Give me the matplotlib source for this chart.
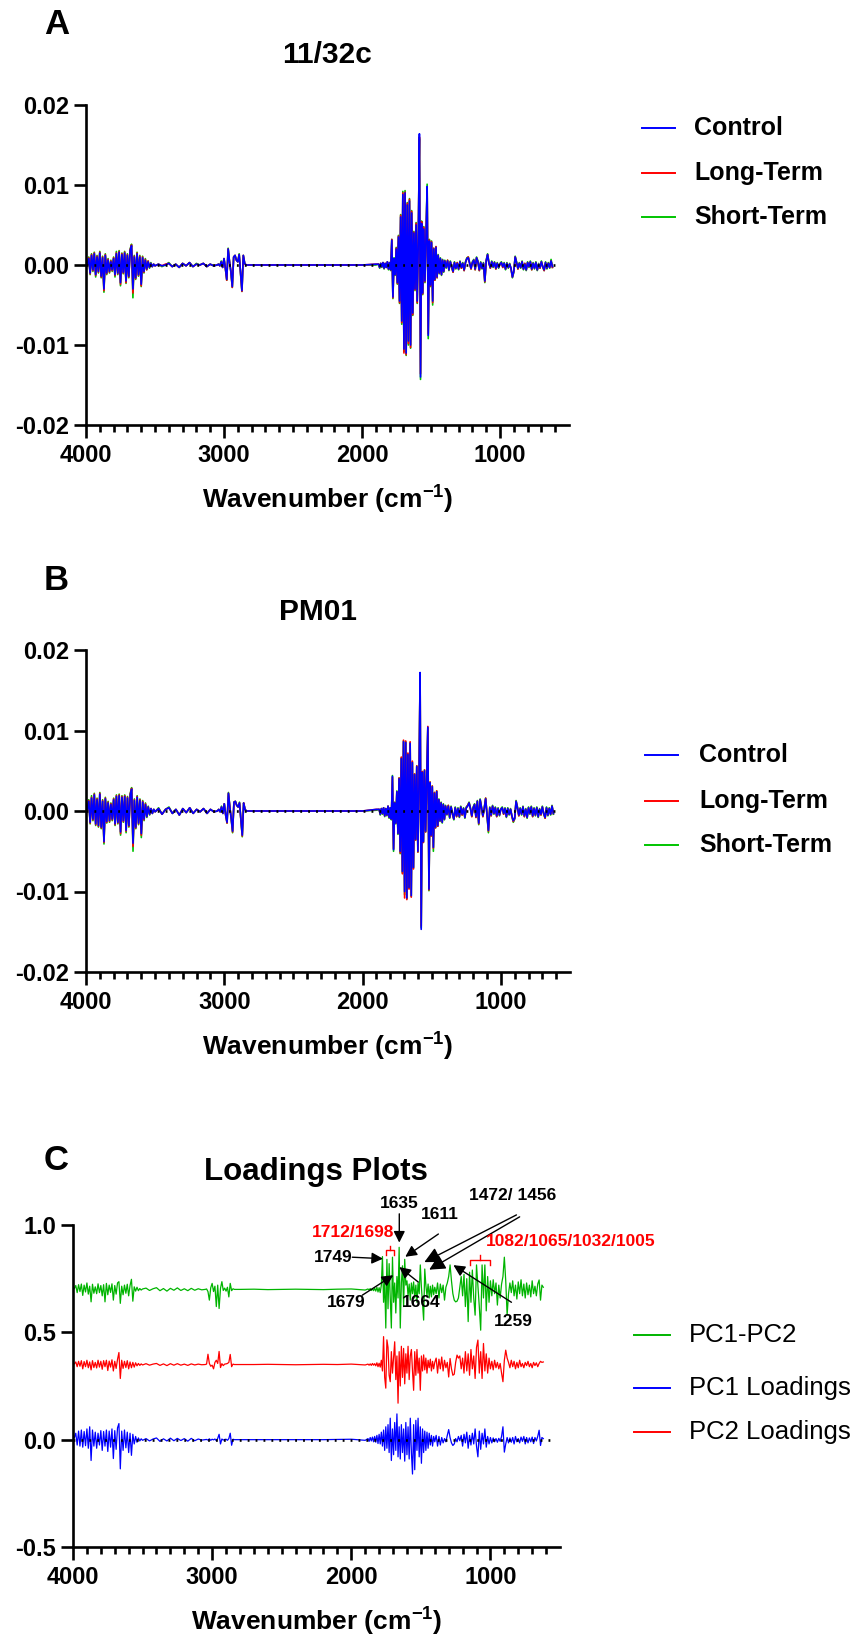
import matplotlib
matplotlib.use("Agg")
import matplotlib.pyplot as plt
from matplotlib.lines import Line2D

plt.rcParams['font.family'] = ['Liberation Sans', 'DejaVu Sans']
plt.rcParams['mathtext.fontset'] = 'custom'
plt.rcParams['mathtext.rm'] = 'Liberation Sans'
plt.rcParams['mathtext.it'] = 'Liberation Sans:italic'
plt.rcParams['mathtext.bf'] = 'Liberation Sans:bold'
plt.rcParams['axes.unicode_minus'] = False

# ------------------------------------------------------------------ data
# wavenumber grid (cm-1)
wavenumber = [
    3990, 3980, 3970, 3960, 3950, 3940, 3930, 3920, 3910, 3900,
    3890, 3880, 3870, 3860, 3850, 3840, 3830, 3820, 3810, 3800,
    3790, 3780, 3770, 3760, 3750, 3740, 3730, 3720, 3710, 3700,
    3690, 3680, 3670, 3660, 3650, 3640, 3630, 3620, 3610, 3600,
    3590, 3580, 3570, 3560, 3550, 3540, 3530, 3520, 3510, 3500,
    3475, 3450, 3425, 3400, 3375, 3350, 3325, 3300, 3275, 3250, 3225, 3200, 3175, 3150, 3125, 3100, 3075,
    3050, 3040, 3030, 3020, 3010, 3000, 2990, 2980, 2970, 2960, 2950,
    2940, 2930, 2920, 2910, 2900, 2890, 2880, 2870, 2860, 2850, 2840,
    2800, 2700, 2600, 2500, 2400, 2300, 2200, 2100, 2000, 1900,
    1880, 1872, 1864, 1856, 1848, 1840, 1832, 1824, 1816, 1808,
    1800, 1792, 1784, 1776, 1768, 1760, 1752, 1744, 1736, 1728,
    1720, 1712, 1704, 1696, 1688, 1680, 1672, 1664, 1656, 1648,
    1640, 1632, 1624, 1616, 1608, 1600, 1592, 1584, 1576, 1568,
    1560, 1552, 1544, 1536, 1528, 1520, 1512, 1504, 1496, 1488,
    1480, 1472, 1464, 1456, 1448, 1440, 1432, 1424, 1416, 1408,
    1400,
    1390, 1380, 1370, 1360, 1350, 1340, 1330, 1320, 1310, 1300,
    1290, 1280, 1270, 1260, 1250, 1240, 1230, 1220, 1210, 1200,
    1190, 1180, 1170, 1160, 1150, 1140, 1130, 1120, 1110, 1100,
    1090, 1080, 1070, 1060, 1050, 1040, 1030, 1020, 1010, 1000,
    990, 980, 970, 960, 950, 940, 930, 920, 910, 900,
    890, 880, 870, 860, 850, 840, 830, 820, 810, 800,
    790, 780, 770, 760, 750, 740, 730, 720, 710, 700,
    690, 680, 670, 660, 650, 640, 630, 620,
]

# Panel A (11/32c) second-derivative spectra, units of 1e-4
control_A = [
    0, 8, -10, 12, -6, 14, -12, 10, -8, 15, -14, 9, -30, 12, -10, 6, -8, 4, -6, 8,
    -12, 14, -10, 16, -22, 13, -9, 15, -20, 12, -14, 18, 24, -30, 10, -16, 14, -12, 10, -24,
    9, -8, 6, -5, 4, -3, 2, -2, 1, -1,
    1, -1, 0, 2, -2, 1, -3, 2, -1, 3, -2, 1, 0, 2, -2, 1, -1,
    0, 1, -1, 4, -3, 8, -4, -18, 20, 4, -8, -27, 10, 12, 6, 4, 13, -10, -32, 12, 2, 0,
    0, 0, 0, 0, 0, 0, 0, 0, 0, 1,
    1, -3, 2, -2, 3, -4, 2, -3, 4, -5, 3, -6, 31, -40, 8, -12, 20, -22, 35, -45,
    60, -70, 88, -105, 90, -110, 75, -95, 80, -100, 65, -60, 40, -30, 50, -45, 30, 164, -140, 52,
    -35, 45, -20, 35, 98, -88, 30, -25, 28, -45, 20, -18, 22, -15, 12, -10, 8, -12, 6, -8,
    5,
    -3, 5, -6, 4, -2, -8, 3, -4, 2, -5, 4, -3, 2, -6, 3, 8, 9, 2, -4, 3,
    6, -5, 9, 4, -6, 3, -4, 2, -20, 5, 13, 2, -3, 4, -2, 3, -4, 2, -3, 1,
    3, -2, 2, -5, 2, -3, 1, -4, -15, -8, 10, 3, -4, 2, -3, 4, -5, 1, -6, 3,
    -2, 4, -5, 2, -4, 3, -6, 1, -3, 4, -2, -6, 3, -4, 2, -3, 5, -2,
]
long_term_A = [
    0, 9, -11, 13, -7, 15, -13, 11, -9, 16, -15, 10, -32, 13, -11, 7, -9, 5, -7, 9,
    -13, 15, -11, 17, -24, 14, -10, 16, -22, 13, -15, 19, 25, -35, 11, -17, 15, -13, 11, -26,
    10, -9, 7, -6, 5, -3, 2, -2, 1, -1,
    1, -1, 1, 2, -2, 1, -3, 2, -1, 3, -2, 1, 0, 2, -2, 1, -1,
    0, 1, -1, 4, -3, 8, -4, -19, 20, 4, -8, -28, 10, 12, 6, 4, 13, -10, -33, 12, 2, 0,
    0, 0, 0, 0, 0, 0, 0, 0, 0, 1,
    1, -3, 2, -2, 3, -4, 2, -3, 4, -5, 3, -6, 32, -41, 8, -12, 21, -23, 36, -47,
    62, -72, 90, -110, 91, -112, 77, -98, 82, -103, 67, -62, 41, -31, 52, -47, 31, 160, -136, 54,
    -36, 47, -21, 36, 95, -86, 31, -26, 29, -47, 21, -19, 23, -16, 12, -10, 8, -12, 6, -8,
    5,
    -3, 6, -6, 4, -3, -9, 3, -4, 3, -5, 4, -4, 2, -7, 3, 8, 10, 2, -5, 3,
    6, -6, 9, 4, -7, 3, -4, 2, -21, 5, 13, 2, -4, 4, -2, 3, -5, 2, -3, 1,
    3, -3, 2, -5, 2, -3, 1, -5, -15, -8, 10, 3, -5, 2, -3, 4, -5, 2, -6, 3,
    -2, 4, -6, 2, -4, 3, -6, 1, -4, 4, -2, -7, 3, -4, 2, -3, 5, -3,
]
short_term_A = [
    0, 10, -12, 14, -8, 16, -15, 12, -10, 17, -16, 11, -34, 14, -12, 8, -10, 6, -8, 10,
    -15, 17, -12, 18, -26, 15, -11, 17, -23, 14, -16, 20, 26, -41, 12, -18, 16, -14, 12, -27,
    11, -10, 8, -6, 5, -4, 3, -2, 1, -1,
    1, -2, 0, 3, -2, 1, -3, 2, -1, 3, -2, 2, 0, 2, -2, 1, -1,
    0, 1, -1, 5, -3, 8, -4, -19, 21, 4, -9, -28, 10, 12, 6, 4, 14, -11, -33, 12, 2, 0,
    0, 0, 0, 0, 0, 0, 0, 0, 0, 0,
    1, -4, 2, -3, 3, -5, 2, -3, 4, -6, 3, -7, 32, -42, 9, -13, 22, -24, 37, -48,
    63, -74, 92, -108, 93, -113, 78, -100, 83, -104, 68, -63, 42, -32, 53, -48, 32, 158, -143, 55,
    -37, 48, -22, 37, 101, -92, 32, -27, 30, -50, 21, -19, 23, -16, 13, -11, 9, -13, 7, -9,
    6,
    -4, 6, -7, 5, -3, -9, 4, -5, 3, -6, 5, -4, 3, -7, 4, 9, 10, 3, -5, 4,
    7, -6, 10, 5, -7, 4, -5, 3, -22, 6, 14, 3, -4, 5, -3, 4, -5, 3, -4, 2,
    4, -3, 3, -6, 3, -4, 2, -5, -16, -9, 11, 4, -5, 3, -4, 5, -6, 2, -7, 4,
    -3, 5, -6, 3, -5, 4, -7, 2, -4, 5, -3, -7, 4, -5, 3, -4, 7, -3,
]

# Panel B (PM01), units of 1e-4
control_B = [
    2, 12, -14, 16, -10, 20, -16, 14, -18, 21, -20, 12, -38, 15, -13, 10, -12, 8, -10, 14,
    -16, 18, -14, 19, -26, 17, -12, 18, -24, 16, -18, 20, 27, -40, 13, -20, 17, -15, 13, -28,
    11, -10, 8, -7, 5, -4, 3, -3, 2, -1,
    3, -4, 2, 4, -3, 2, -5, 3, -2, 4, -3, 2, -1, 3, -3, 2, -1,
    0, 2, -1, 5, -3, 9, -5, -14, 22, 5, -9, -25, 11, 12, 7, 5, 10, -10, -30, 10, 2, 0,
    0, 0, 0, 0, 0, 0, 0, 0, 0, 2,
    2, -4, 3, -3, 4, -6, 3, -5, 6, -8, 4, -10, 43, -48, 10, -15, 24, -28, 40, -50,
    65, -75, 86, -100, 85, -108, 70, -95, 84, -105, 60, -70, 45, -35, 55, -50, 35, 172, -147, 48,
    -38, 50, -25, 40, 104, -97, 35, -30, 30, -45, 22, -20, 24, -18, 14, -12, 10, -14, 8, -10,
    6,
    -4, 6, -8, 5, -3, -10, 4, -6, 3, -7, 5, -4, 3, -8, 4, 6, 10, 3, -6, 4,
    8, -7, 12, -15, 14, 4, -6, 3, 15, -5, -24, 4, -5, 6, -3, 4, -6, 3, -5, 2,
    4, -3, 3, -7, 3, -4, 2, -6, -12, -9, 12, 4, -5, 3, -4, 5, -6, 2, -8, 4,
    -3, 5, -6, 3, -5, 4, -7, 2, -4, 5, -3, -8, 4, -5, 3, -4, 6, -3,
]
long_term_B = [
    2, 13, -15, 17, -11, 21, -17, 15, -19, 22, -21, 13, -39, 16, -14, 11, -13, 9, -11, 15,
    -17, 19, -15, 20, -28, 18, -13, 19, -25, 17, -19, 21, 28, -44, 14, -21, 18, -16, 14, -30,
    12, -11, 9, -7, 5, -4, 3, -3, 2, -1,
    3, -4, 2, 4, -3, 2, -5, 3, -2, 4, -3, 2, -1, 3, -3, 2, -1,
    0, 2, -1, 5, -3, 9, -5, -15, 22, 5, -9, -26, 11, 12, 7, 5, 10, -10, -31, 10, 2, 0,
    0, 0, 0, 0, 0, 0, 0, 0, 0, 2,
    2, -4, 3, -3, 4, -6, 3, -5, 6, -8, 4, -10, 42, -47, 10, -15, 24, -28, 41, -52,
    67, -78, 88, -108, 87, -110, 72, -97, 86, -107, 62, -72, 46, -36, 56, -51, 36, 168, -143, 49,
    -39, 51, -26, 41, 105, -98, 36, -31, 31, -46, 23, -21, 25, -19, 14, -12, 10, -14, 8, -10,
    6,
    -4, 7, -8, 5, -4, -10, 4, -7, 3, -7, 5, -5, 3, -8, 4, 7, 10, 3, -7, 4,
    8, -8, 12, -16, 14, 4, -7, 3, 16, -5, -25, 4, -6, 6, -3, 4, -7, 3, -5, 2,
    4, -4, 3, -7, 3, -4, 2, -7, -13, -9, 12, 4, -6, 3, -4, 5, -7, 2, -8, 4,
    -3, 5, -7, 3, -5, 4, -7, 2, -5, 5, -3, -9, 4, -5, 3, -4, 6, -3,
]
short_term_B = [
    2, 14, -16, 19, -12, 22, -18, 16, -20, 23, -22, 14, -41, 17, -15, 12, -14, 10, -12, 16,
    -18, 20, -16, 21, -30, 19, -14, 20, -27, 18, -20, 22, 29, -50, 15, -22, 19, -17, 15, -33,
    13, -12, 10, -8, 6, -5, 3, -3, 2, -1,
    4, -4, 2, 5, -3, 2, -5, 3, -2, 4, -3, 2, -1, 3, -3, 2, -1,
    0, 2, -1, 6, -3, 9, -5, -15, 23, 5, -10, -27, 11, 12, 7, 5, 11, -11, -32, 10, 2, 0,
    0, 0, 0, 0, 0, 0, 0, 0, 0, 1,
    2, -5, 3, -4, 4, -7, 3, -6, 6, -9, 4, -11, 44, -50, 11, -16, 25, -29, 41, -53,
    66, -77, 87, -104, 86, -109, 71, -96, 85, -106, 61, -71, 46, -36, 56, -51, 36, 166, -145, 49,
    -39, 51, -26, 41, 103, -99, 36, -31, 31, -50, 23, -21, 25, -19, 15, -13, 11, -15, 9, -11,
    7,
    -5, 7, -9, 6, -4, -11, 5, -7, 4, -8, 6, -5, 4, -9, 5, 7, 11, 4, -7, 5,
    9, -8, 13, -17, 15, 5, -7, 4, 16, -6, -27, 5, -6, 7, -4, 5, -7, 4, -6, 3,
    5, -4, 4, -8, 4, -5, 3, -7, -14, -10, 13, 5, -6, 4, -5, 6, -7, 3, -9, 5,
    -4, 6, -7, 4, -6, 5, -8, 3, -5, 6, -4, -9, 5, -6, 4, -5, 7, -4,
]

# Panel C loadings, units of 1e-3 (before vertical offset)
pc1_pc2 = [
    5, 18, -15, 22, -10, 25, -28, 20, -12, 30, -22, 15, -58, 24, -18, 12, -20, 26, -15, 18,
    -30, 22, -58, 28, -25, 20, -14, 26, -50, 18, -22, 30, 36, -65, 15, -25, 20, -18, 24, -30,
    18, 47, -55, 12, -8, 10, -6, 4, -3, 2,
    6, -5, 3, 8, -6, 4, -8, 5, -4, 7, -5, 3, -6, 5, -4, 3, -2,
    0, 2, -10, -50, 8, 28, -10, 15, -80, 20, -89, 5, 36, -5, 6, -8, 10, -35, 28, -6, 3, 0,
    0, 1, -1, 0, 1, 0, -1, 1, 2, -3,
    2, -3, 4, -5, 3, -6, 5, -8, 10, -12, 8, -15, 20, 153, -60, 40, -180, 140, -90, 120,
    -40, -180, 150, -60, 30, -110, 60, -40, 196, -180, 30, 110, -80, 140, 20, 40, -30, 25, -50, 30,
    -20, 35, -40, 20, -60, 30, -20, 114, 10, -70, -143, 95, 20, -30, 25, -40, 15, -35, 20, -25,
    10,
    -20, 30, -40, 25, -15, 20, -50, 10, 30, 60, 114, 40, -20, -50, -58, -55, -40, 10, 60, -30,
    70, -80, 50, -150, 80, -60, 90, -40, -120, 114, 20, -80, -190, 114, -40, 114, -100, 60, -60, 40,
    -30, 45, -20, 30, -73, 20, -40, 25, 60, 150, 40, -120, -20, 30, -15, 40, -30, 20, -45, 35,
    -20, 45, -30, 25, -40, 30, -25, 20, -35, 40, -20, 15, -30, 25, 44, -50, 20, 10,
]
pc2_loadings = [
    3, 12, -10, 15, -8, 18, -20, 14, -10, 20, -15, 12, -25, 18, -14, 10, -16, 20, -12, 15,
    -22, 18, -10, 20, -28, 16, -12, 22, -30, 15, -18, 24, 56, -65, 20, -18, 15, -14, 18, -20,
    12, -15, 10, -12, 8, -6, 5, -4, 3, -2,
    4, -3, 2, 5, -4, 3, -5, 4, -3, 4, -3, 2, -4, 3, -2, 2, -1,
    0, 2, 48, 5, -8, -3, -20, 10, 20, 5, 61, -14, 4, -5, 2, 3, 5, 10, 47, -10, 2, 0,
    0, 0, 1, 0, -1, 0, 1, 0, 2, -2,
    2, -3, 3, -4, 5, -3, 4, -6, 8, -10, 6, -12, 20, -30, 130, -60, -110, 115, 80, -50,
    -80, 60, -40, 30, 106, -70, 40, -180, 60, -100, 85, -60, 75, -90, 50, -40, 85, -70, 40, 70,
    -30, -120, 60, -50, 70, -40, 30, -120, 40, -30, 45, -25, 30, -40, 20, -15, 25, -30, 15, -20,
    10,
    30, -40, 25, -20, 35, -30, 20, -15, 10, -58, 28, -20, -50, -45, 10, 44, 30, 40, -20, 30,
    -40, 60, -30, 50, -50, 70, -20, 40, -65, 80, 114, -40, 60, -65, 98, -30, 50, -40, 30, -20,
    15, -25, 20, -15, 10, -20, 5, -40, -80, 20, 67, 30, 10, -15, 20, -10, 15, -20, 10, -15,
    20, -10, 5, -15, 10, -5, 15, -10, 5, -15, 10, -5, 8, -10, 5, 15, 10, 12,
]
pc1_loadings = [
    10, 30, -25, 40, -30, 45, -35, 38, -28, 50, -40, 60, -97, 45, -30, 35, -40, 30, -25, 42,
    -50, 38, -30, 45, -55, 40, -35, 50, -88, 42, -45, 55, 75, -136, 40, -50, 45, -38, 35, -60,
    30, -73, 25, -20, 15, -12, 8, -6, 4, -3,
    5, -6, 3, 8, -8, 4, -6, 7, -5, 6, -4, 5, -7, 6, -5, 3, -2,
    0, 1, -2, 4, -3, 2, -1, 3, -5, 6, 25, -20, 3, -2, 1, 2, -3, 5, 30, -26, 2, 0,
    0, 0, 0, 0, 0, 0, 0, 1, 2, -3,
    5, -8, 10, -6, 12, -10, 15, -12, 20, -18, 25, -20, 35, -30, 45, -50, 60, -40, 70, -60,
    100, -97, 50, -70, 80, -50, 120, -80, 60, -90, 70, -60, 50, -100, 80, -70, 60, -90, 100, -60,
    -160, 70, -140, 90, -50, 100, -80, 60, -110, 50, -60, 40, -50, 35, -40, 30, -25, 20, -30, 15,
    -10,
    20, -30, 15, -25, 10, -15, 5, -10, 20, 47, 10, -15, -27, -20, 5, -10, 15, -5, 20, -30,
    25, -15, 35, -40, 20, -25, 30, -20, 50, -30, -80, 40, -45, 30, -20, 50, -35, 15, -20, 10,
    -15, 8, -10, 5, -12, 6, -8, 15, 60, -58, -20, 10, -15, 8, -12, 10, -20, 15, -10, 5,
    -15, 12, -8, 15, -20, 10, -15, 8, -10, 12, -18, 10, -6, 15, 44, -27, 10, 5,
]

SPEC_UNIT = 1e-4
LOAD_UNIT = 1e-3
load_offset_pc1_pc2 = 0.70
load_offset_pc2 = 0.35
load_offset_pc1 = 0.0

panel_letters = ['A', 'B', 'C']
panel_titles = ['11/32c', 'PM01', 'Loadings Plots']
group_labels = ['Control', 'Long-Term', 'Short-Term']
loading_labels = ['PC1-PC2', 'PC1 Loadings', 'PC2 Loadings']
x_major_ticks = [4000, 3000, 2000, 1000]
x_tick_labels = ['4000', '3000', '2000', '1000']
spec_yticks = [-0.02, -0.01, 0.0, 0.01, 0.02]
spec_yticklabels = ['-0.02', '-0.01', '0.00', '0.01', '0.02']
load_yticks = [-0.5, 0.0, 0.5, 1.0]
load_yticklabels = ['-0.5', '0.0', '0.5', '1.0']

# peak annotations in panel C: label, label position, (arrow tail, arrow tip)
peak_labels = [
    ('1635', (1655, 1.098), [((1655, 1.052), (1655, 0.918))]),
    ('1611', (1367, 1.051), [((1374, 0.958), (1612, 0.852))]),
    ('1472/ 1456', (842, 1.136), [((813, 1.047), (1475, 0.827)),
                                 ((790, 1.038), (1440, 0.792))]),
    ('1749', (2129, 0.850), [((1993, 0.850), (1772, 0.843))]),
    ('1679', (2036, 0.640), [((1921, 0.673), (1698, 0.766))]),
    ('1664', (1496, 0.640), [((1518, 0.734), (1655, 0.804))]),
    ('1259', (835, 0.551), [((849, 0.640), (1266, 0.813))]),
]
red_labels = [
    ('1712/1698', (1986, 0.967), (1748, 1691)),
    ('1082/1065/1032/1005', (424, 0.925), (1149, 1005)),
]

# ------------------------------------------------------------------ figure
W, H = 853, 1636
fig = plt.figure(figsize=(W / 100, H / 100), dpi=100)

BLUE = '#0000FF'
RED = '#FF0000'
GREEN = '#00C400'
GREEN_C = '#00B400'


def fx(x):
    return x / W


def fy(y):
    return 1 - y / H


def add_axes(left, top, right, bottom):
    return fig.add_axes([fx(left), fy(bottom), (right - left) / W, (bottom - top) / H])


def style(ax, yticks, ylabels, height_px):
    ax.set_xlim(4000, 500)
    for s in ('top', 'right'):
        ax.spines[s].set_visible(False)
    for s in ('left', 'bottom'):
        ax.spines[s].set_linewidth(1.9)
    ax.set_xticks(x_major_ticks)
    ax.set_xticklabels(x_tick_labels)
    ax.set_xticks([w for w in range(3900, 550, -100) if w % 1000], minor=True)
    ax.set_yticks(yticks)
    ax.set_yticklabels(ylabels)
    ax.tick_params(axis='x', which='major', length=9, width=1.9, pad=5, labelsize=17)
    ax.tick_params(axis='x', which='minor', length=5, width=1.9)
    ax.tick_params(axis='y', which='major', length=9, width=1.9, pad=3, labelsize=17)
    for lab in ax.get_xticklabels() + ax.get_yticklabels():
        lab.set_fontweight('bold')
    ax.set_xlabel(r'Wavenumber (cm$^{\mathbf{-1}}$)', fontsize=19, fontweight='bold')
    ax.xaxis.set_label_coords(0.5, -75 / height_px)
    ax.xaxis.label.set_va('center')
    ax.set_facecolor('none')


def zero_dots(ax):
    ax.plot([4000, 570], [0, 0], color='black', lw=1.9,
            linestyle=(0, (0.7, 2.3)), zorder=4)


def legend(entries, x_line, x_text, rows, bold, size):
    for (label, col), y in zip(entries, rows):
        fig.add_artist(Line2D([fx(x_line[0]), fx(x_line[1])], [fy(y), fy(y)],
                              color=col, lw=1.4, transform=fig.transFigure))
        fig.text(fx(x_text), fy(y), label, ha='left', va='center', fontsize=size,
                 fontweight='bold' if bold else 'normal')


# ---- panel A
axA = add_axes(86, 105, 569, 425)
axA.set_ylim(-0.02, 0.02)
axA.plot(wavenumber, [v * SPEC_UNIT for v in short_term_A], color=GREEN, lw=1.2)
axA.plot(wavenumber, [v * SPEC_UNIT for v in long_term_A], color=RED, lw=1.2)
axA.plot(wavenumber, [v * SPEC_UNIT for v in control_A], color=BLUE, lw=1.2)
zero_dots(axA)
style(axA, spec_yticks, spec_yticklabels, 320)
legend(list(zip(group_labels, [BLUE, RED, GREEN])), (642, 675), 694, [128, 173, 217], True, 18)

# ---- panel B
axB = add_axes(86, 650, 570, 972)
axB.set_ylim(-0.02, 0.02)
axB.plot(wavenumber, [v * SPEC_UNIT for v in short_term_B], color=GREEN, lw=1.2)
axB.plot(wavenumber, [v * SPEC_UNIT for v in long_term_B], color=RED, lw=1.2)
axB.plot(wavenumber, [v * SPEC_UNIT for v in control_B], color=BLUE, lw=1.2)
zero_dots(axB)
style(axB, spec_yticks, spec_yticklabels, 322)
legend(list(zip(group_labels, [BLUE, RED, GREEN])), (645, 678), 699, [755, 801, 845], True, 18)

# ---- panel C
axC = add_axes(73, 1225, 560, 1547)
axC.set_ylim(-0.5, 1.0)
axC.plot(wavenumber, [load_offset_pc1_pc2 + v * LOAD_UNIT for v in pc1_pc2], color=GREEN_C, lw=0.9)
axC.plot(wavenumber, [load_offset_pc2 + v * LOAD_UNIT for v in pc2_loadings], color=RED, lw=0.9)
axC.plot(wavenumber, [load_offset_pc1 + v * LOAD_UNIT for v in pc1_loadings], color=BLUE, lw=0.9)
zero_dots(axC)
style(axC, load_yticks, load_yticklabels, 322)
legend(list(zip(loading_labels, [GREEN_C, BLUE, RED])), (634, 670), 689, [1335, 1388, 1432], False, 18.5)

for label, (tx, ty), arrows in peak_labels:
    axC.text(tx, ty, label, ha='center', va='center', fontsize=12.5,
             fontweight='bold', color='black', clip_on=False)
    big = len(arrows) > 1
    for tail, tip in arrows:
        axC.annotate('', xy=tip, xytext=tail, annotation_clip=False,
                     arrowprops=dict(arrowstyle='-|>', color='black', lw=1.0,
                                     mutation_scale=24 if big else 17,
                                     shrinkA=0, shrinkB=0))

for label, (tx, ty), (w0, w1) in red_labels:
    axC.text(tx, ty, label, ha='center', va='center', fontsize=12.5,
             fontweight='bold', color='red', clip_on=False)
    base = ty - 0.085 if w0 > 1500 else ty - 0.088
    wm = (w0 + w1) / 2
    axC.plot([w0, w0, w1, w1], [base - 0.023, base, base, base - 0.023],
             color='red', lw=1.0, clip_on=False)
    axC.plot([wm, wm], [base, base + 0.022], color='red', lw=1.0, clip_on=False)

# ---- titles and panel letters
title_pos = [(327, 55), (318, 612), (316, 1172)]
title_size = [21.5, 21.5, 22.5]
letter_pos = [(44, 25), (44, 581), (44, 1161)]
for t, (x, y), s in zip(panel_titles, title_pos, title_size):
    fig.text(fx(x), fy(y), t, ha='center', va='center', fontsize=s, fontweight='bold')
for t, (x, y) in zip(panel_letters, letter_pos):
    fig.text(fx(x), fy(y), t, ha='left', va='center', fontsize=25, fontweight='bold')

fig.savefig('out.png', dpi=100)
